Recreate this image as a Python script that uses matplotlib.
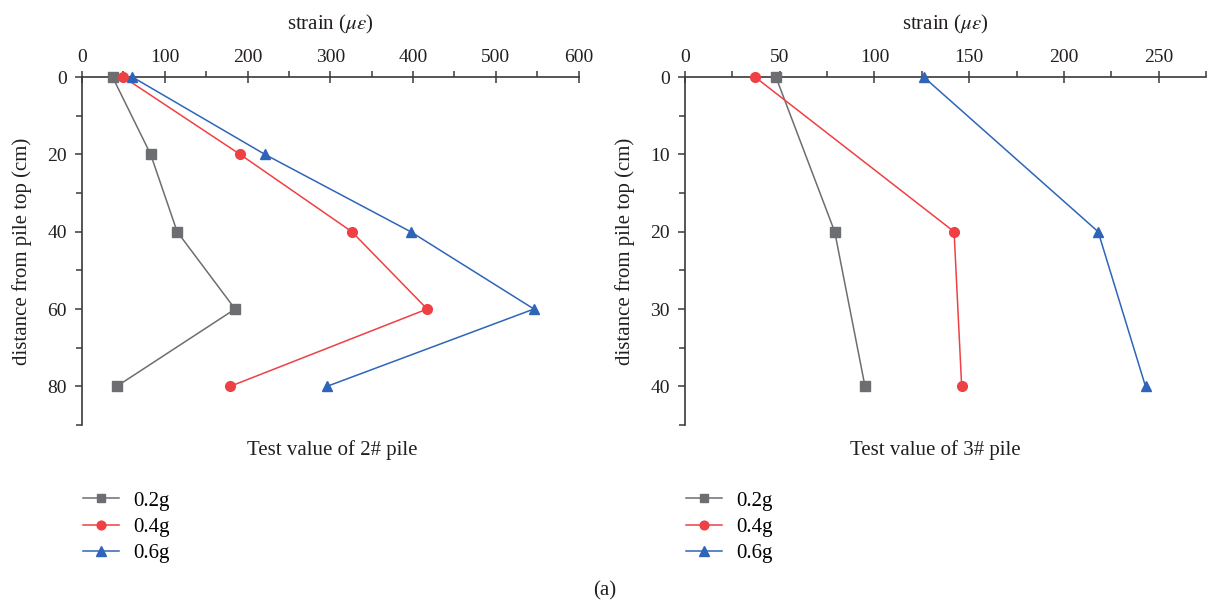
import matplotlib
matplotlib.use('Agg')
import matplotlib.pyplot as plt
from matplotlib.ticker import MultipleLocator

plt.rcParams['font.family'] = ['Liberation Serif', 'DejaVu Serif']
plt.rcParams['mathtext.fontset'] = 'stix'
plt.rcParams['font.size'] = 15

# pile 2# : depth (cm) vs strain
depth_2 = [0, 20, 40, 60, 80]
strain_2_02g = [37, 83, 115, 185, 42]
strain_2_04g = [50, 191, 326, 417, 179]
strain_2_06g = [61, 221, 397, 546, 296]

# pile 3#
depth_3 = [0, 20, 40]
strain_3_02g = [48, 79, 95]
strain_3_04g = [37, 142, 146]
strain_3_06g = [126, 218, 243]

labels = ['0.2g', '0.4g', '0.6g']
colors = ['#6d6e71', '#ef4044', '#2f65b9']
markers = ['s', 'o', '^']
msizes = [6.5, 7, 7.5]
txt = '#231f20'

fig = plt.figure(figsize=(12.07, 6.02), dpi=100)
ax1 = fig.add_axes([0.0679, 0.294, 0.4115, 0.578])
ax2 = fig.add_axes([0.5675, 0.294, 0.4318, 0.578])


def style(ax, xmax, xmaj, xmin, ymax, ymaj, ymin):
    ax.set_xlim(0, xmax)
    ax.set_ylim(ymax, 0)
    ax.xaxis.set_major_locator(MultipleLocator(xmaj))
    ax.xaxis.set_minor_locator(MultipleLocator(xmin))
    ax.yaxis.set_major_locator(MultipleLocator(ymaj))
    ax.yaxis.set_minor_locator(MultipleLocator(ymin))
    ax.xaxis.tick_top()
    ax.xaxis.set_label_position('top')
    for s in ['right', 'bottom']:
        ax.spines[s].set_visible(False)
    for s in ['top', 'left']:
        ax.spines[s].set_color('#3a3a3a')
        ax.spines[s].set_linewidth(1.2)
    ax.tick_params(axis='x', which='major', direction='inout', length=8, width=1.1,
                   color='#3a3a3a', pad=4, labelsize=14, labelcolor=txt)
    ax.tick_params(axis='x', which='minor', direction='out', length=4, width=1.1,
                   color='#3a3a3a')
    ax.tick_params(axis='y', which='major', direction='out', length=5, width=1.1,
                   color='#3a3a3a', pad=6, labelsize=14, labelcolor=txt)
    ax.tick_params(axis='y', which='minor', direction='out', length=4, width=1.1,
                   color='#3a3a3a')
    ax.set_xlabel(r'strain ($\mu\varepsilon$)', labelpad=14, color=txt)
    ax.set_ylabel('distance from pile top (cm)', labelpad=11, color=txt)


series2 = [strain_2_02g, strain_2_04g, strain_2_06g]
series3 = [strain_3_02g, strain_3_04g, strain_3_06g]
handles = []
for i in range(3):
    h, = ax1.plot(series2[i], depth_2, color=colors[i], marker=markers[i],
                  markersize=msizes[i], linewidth=1.1, label=labels[i], clip_on=False, zorder=3)
    ax2.plot(series3[i], depth_3, color=colors[i], marker=markers[i],
             markersize=msizes[i], linewidth=1.1, label=labels[i], clip_on=False, zorder=3)
    handles.append(h)

style(ax1, 600, 100, 50, 90, 20, 10)
style(ax2, 275, 50, 25, 45, 10, 5)

fig.text(332 / 1207, 1 - 450 / 602, 'Test value of 2# pile', ha='center', va='center',
         color=txt)
fig.text(935 / 1207, 1 - 450 / 602, 'Test value of 3# pile', ha='center', va='center',
         color=txt)

for xl in [83 / 1207, 686 / 1207]:
    fig.legend(handles=handles, labels=labels, loc='upper left',
               bbox_to_anchor=(xl, 1 - 491 / 602), frameon=False, fontsize=15,
               handlelength=1.75, labelspacing=0.32, handletextpad=0.65,
               borderaxespad=0, borderpad=0, markerscale=0.9)

fig.text(605 / 1207, 1 - 591 / 602, '(a)', ha='center', va='center', color=txt)

fig.savefig('out.png', dpi=100)
